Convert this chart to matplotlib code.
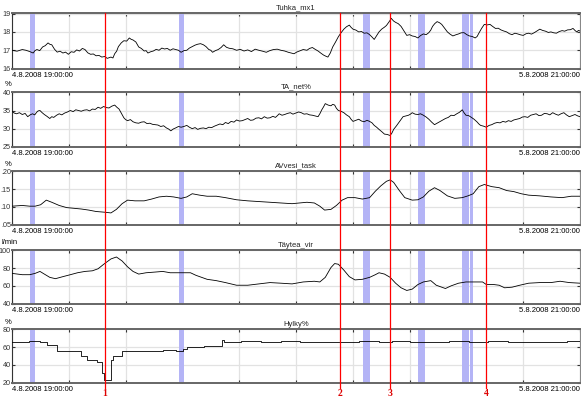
import matplotlib
matplotlib.use('Agg')
import matplotlib.pyplot as plt
import matplotlib.transforms as mtransforms
from matplotlib.lines import Line2D
import numpy as np

# time axis: hours since 4.8.2008 19:00:00 (ends 5.8.2008 21:00:00)
t_start_label = '4.8.2008 19:00:00'
t_end_label = '5.8.2008 21:00:00'
t_end = 26.0

# (hour, value) readings
tuhka_pts = [
    (0.0, 17.0), (0.23, 16.95), (0.47, 17.04), (0.64, 17.0), (0.81, 16.93), (0.97, 16.85), (1.05, 16.98),
    (1.14, 17.04), (1.27, 16.98), (1.40, 17.18), (1.52, 17.25), (1.65, 17.4), (1.74, 17.32), (1.82, 17.3),
    (1.95, 17.05), (2.07, 16.9), (2.2, 16.95), (2.33, 16.85), (2.45, 16.9), (2.58, 16.78), (2.71, 16.92),
    (2.84, 16.89), (2.96, 17.02), (3.09, 16.96), (3.22, 17.1), (3.34, 17.04), (3.47, 16.86), (3.60, 16.78),
    (3.72, 16.8), (3.85, 16.7), (3.98, 16.72), (4.11, 16.63), (4.24, 16.66), (4.36, 16.56), (4.45, 16.6),
    (4.53, 16.63), (4.62, 16.58), (4.70, 16.81), (4.79, 16.95), (4.87, 17.2), (5.0, 17.4), (5.12, 17.52),
    (5.25, 17.5), (5.37, 17.67), (5.45, 17.6), (5.54, 17.56), (5.67, 17.45), (5.80, 17.18), (5.92, 17.1),
    (6.05, 16.96), (6.14, 16.98), (6.22, 16.85), (6.35, 16.92), (6.47, 16.96), (6.6, 17.05), (6.73, 17.0),
    (6.86, 17.12), (6.98, 17.07), (7.11, 17.1), (7.24, 17.0), (7.37, 17.08), (7.49, 17.04), (7.62, 17.0),
    (7.74, 16.89), (7.87, 16.98), (8.00, 17.0), (8.12, 17.12), (8.25, 17.2), (8.38, 17.28), (8.50, 17.33),
    (8.63, 17.36), (8.76, 17.3), (8.88, 17.2), (9.01, 17.04), (9.1, 17.0), (9.18, 16.89), (9.31, 16.98),
    (9.44, 17.04), (9.57, 17.15), (9.69, 17.3), (9.82, 17.16), (9.94, 17.11), (10.11, 17.08), (10.28, 17.0),
    (10.45, 17.05), (10.62, 16.96), (10.79, 17.02), (10.96, 16.93), (11.13, 17.06), (11.30, 17.0),
    (11.47, 16.95), (11.64, 16.89), (11.8, 16.98), (11.97, 17.04), (12.14, 17.06), (12.31, 17.0),
    (12.48, 16.96), (12.65, 16.89), (12.78, 16.85), (12.91, 16.81), (13.03, 16.9), (13.16, 16.96),
    (13.33, 17.04), (13.50, 17.0), (13.62, 17.1), (13.75, 17.15), (13.88, 17.05), (14.01, 16.96),
    (14.13, 16.85), (14.26, 16.74), (14.36, 16.68), (14.46, 16.63), (14.57, 16.85), (14.68, 17.18),
    (14.81, 17.45), (14.94, 17.74), (15.06, 17.95), (15.19, 18.15), (15.31, 18.28), (15.44, 18.37),
    (15.52, 18.25), (15.61, 18.15), (15.74, 18.1), (15.87, 18.0), (16.0, 18.02), (16.12, 17.93),
    (16.25, 17.95), (16.37, 17.85), (16.48, 17.72), (16.58, 17.59), (16.69, 17.8), (16.80, 18.0),
    (16.92, 18.15), (17.05, 18.26), (17.14, 18.35), (17.22, 18.48), (17.29, 18.6), (17.36, 18.74),
    (17.46, 18.6), (17.56, 18.52), (17.68, 18.45), (17.81, 18.3), (17.94, 18.05), (18.07, 17.81),
    (18.2, 17.85), (18.32, 17.78), (18.45, 17.75), (18.58, 17.67), (18.7, 17.8), (18.83, 17.89),
    (18.96, 17.85), (19.08, 17.96), (19.17, 18.1), (19.25, 18.3), (19.35, 18.45), (19.46, 18.56),
    (19.57, 18.5), (19.67, 18.41), (19.8, 18.2), (19.93, 18.0), (20.05, 17.88), (20.18, 17.78),
    (20.31, 17.84), (20.44, 17.89), (20.56, 17.95), (20.69, 17.96), (20.82, 17.85), (20.94, 17.78),
    (21.07, 17.75), (21.20, 17.67), (21.29, 17.75), (21.37, 17.93), (21.5, 18.2), (21.62, 18.41),
    (21.75, 18.38), (21.88, 18.41), (22.0, 18.3), (22.13, 18.19), (22.26, 18.2), (22.38, 18.11),
    (22.51, 18.05), (22.64, 18.0), (22.77, 17.9), (22.89, 17.85), (23.02, 17.93), (23.15, 17.89),
    (23.28, 17.84), (23.40, 17.81), (23.53, 17.9), (23.65, 17.93), (23.78, 17.88), (23.91, 17.96),
    (24.04, 18.06), (24.16, 18.15), (24.29, 18.08), (24.42, 18.04), (24.55, 17.97), (24.67, 18.0),
    (24.8, 17.95), (24.92, 17.93), (25.05, 18.02), (25.18, 18.07), (25.3, 18.04), (25.43, 18.11),
    (25.56, 18.12), (25.68, 18.19), (25.77, 18.08), (25.85, 18.0), (25.93, 18.08), (26.0, 18.05),
]

tanet_pts = [
    (0.0, 34.8), (0.1, 34.3), (0.21, 34.1), (0.34, 34.4), (0.47, 33.9), (0.6, 34.2), (0.72, 33.3),
    (0.83, 33.8), (0.94, 34.1), (1.04, 33.8), (1.14, 34.6), (1.2, 34.9), (1.28, 35.0), (1.38, 34.4),
    (1.48, 33.9), (1.6, 33.4), (1.73, 32.8), (1.82, 33.3), (1.91, 33.1), (2.04, 33.7), (2.16, 34.1),
    (2.28, 33.8), (2.41, 34.3), (2.54, 34.6), (2.67, 35.0), (2.8, 34.7), (2.92, 35.2), (3.05, 35.0),
    (3.17, 34.8), (3.3, 35.1), (3.43, 35.2), (3.55, 34.9), (3.68, 35.4), (3.81, 35.3), (3.94, 35.9),
    (4.06, 35.6), (4.19, 36.1), (4.32, 35.8), (4.44, 35.7), (4.57, 36.2), (4.70, 36.5), (4.8, 35.9),
    (4.90, 35.4), (5.0, 34.3), (5.12, 33.0), (5.2, 32.5), (5.29, 32.2), (5.42, 32.5), (5.54, 31.9),
    (5.67, 31.6), (5.80, 31.5), (5.92, 31.8), (6.05, 31.9), (6.18, 31.4), (6.31, 31.5), (6.43, 31.2),
    (6.56, 31.1), (6.68, 31.0), (6.81, 30.6), (6.94, 30.8), (7.07, 30.2), (7.17, 29.9), (7.27, 29.4),
    (7.38, 29.9), (7.49, 30.2), (7.62, 30.6), (7.74, 30.4), (7.87, 30.6), (8.00, 30.9), (8.12, 30.4),
    (8.25, 30.0), (8.38, 30.3), (8.50, 29.8), (8.63, 30.1), (8.76, 30.2), (8.88, 30.0), (9.01, 30.4),
    (9.14, 30.3), (9.27, 30.7), (9.4, 31.0), (9.52, 31.3), (9.65, 31.1), (9.77, 31.7), (9.9, 31.4),
    (10.03, 32.0), (10.16, 31.8), (10.28, 32.4), (10.41, 32.1), (10.54, 32.2), (10.66, 32.5),
    (10.79, 32.8), (10.92, 32.3), (11.04, 32.4), (11.17, 32.9), (11.30, 33.0), (11.42, 32.7),
    (11.55, 33.3), (11.68, 32.9), (11.81, 33.0), (11.94, 33.4), (12.06, 33.1), (12.15, 33.6),
    (12.23, 34.1), (12.36, 33.7), (12.48, 33.9), (12.61, 34.2), (12.74, 34.4), (12.86, 34.0),
    (12.99, 34.3), (13.12, 34.6), (13.24, 34.4), (13.37, 34.0), (13.50, 34.1), (13.62, 33.8),
    (13.75, 33.7), (13.88, 33.5), (14.01, 33.3), (14.1, 34.2), (14.18, 35.2), (14.26, 36.0),
    (14.34, 36.9), (14.47, 36.5), (14.60, 36.3), (14.68, 36.7), (14.77, 36.5), (14.85, 35.6),
    (14.94, 35.0), (15.06, 34.8), (15.19, 34.4), (15.31, 33.8), (15.44, 33.3), (15.52, 32.6),
    (15.61, 32.0), (15.74, 32.3), (15.87, 32.6), (16.0, 32.1), (16.12, 31.9), (16.25, 32.3),
    (16.37, 32.0), (16.48, 31.6), (16.58, 30.9), (16.69, 30.4), (16.80, 29.8), (16.92, 29.2),
    (17.05, 28.5), (17.18, 28.4), (17.31, 28.1), (17.39, 28.8), (17.47, 29.8), (17.6, 30.8),
    (17.73, 31.9), (17.82, 32.7), (17.90, 33.3), (18.03, 33.5), (18.15, 33.7), (18.24, 34.0),
    (18.32, 34.4), (18.45, 34.0), (18.58, 33.9), (18.7, 34.1), (18.83, 33.7), (18.96, 33.2),
    (19.08, 32.6), (19.21, 31.8), (19.34, 31.1), (19.46, 31.5), (19.59, 31.9), (19.72, 32.4),
    (19.84, 32.8), (19.97, 33.1), (20.10, 33.7), (20.23, 33.6), (20.36, 34.1), (20.48, 34.5),
    (20.61, 35.2), (20.7, 34.3), (20.78, 33.7), (20.9, 33.6), (21.03, 33.1), (21.15, 32.6),
    (21.28, 31.9), (21.37, 31.3), (21.45, 30.9), (21.58, 30.7), (21.71, 30.4), (21.84, 30.9),
    (21.96, 31.1), (22.09, 31.5), (22.21, 31.7), (22.34, 31.6), (22.47, 32.0), (22.6, 31.8),
    (22.72, 32.2), (22.85, 32.0), (22.97, 32.4), (23.1, 32.6), (23.24, 32.8), (23.36, 33.2),
    (23.48, 33.3), (23.61, 33.1), (23.74, 33.7), (23.86, 33.9), (23.99, 34.1), (24.12, 33.6),
    (24.24, 33.7), (24.37, 34.2), (24.50, 34.1), (24.62, 33.8), (24.75, 34.4), (24.88, 34.0),
    (25.01, 33.7), (25.13, 34.1), (25.26, 34.4), (25.38, 33.8), (25.51, 33.3), (25.64, 33.6),
    (25.77, 33.9), (25.9, 33.5), (26.0, 33.3),
]

avvesi_t = [0.0, 0.47, 0.81, 1.06, 1.31, 1.57, 1.82, 2.16, 2.50, 2.84, 3.17, 3.51, 3.85, 4.24,
            4.53, 4.78, 5.04, 5.29, 5.63, 6.05, 6.39, 6.73, 7.07, 7.40, 7.74, 8.00, 8.25, 8.59,
            8.93, 9.35, 9.77, 10.28, 10.79, 11.30, 11.81, 12.31, 12.82, 13.16, 13.50, 13.84,
            14.09, 14.31, 14.60, 14.85, 15.11, 15.36, 15.70, 16.04, 16.37, 16.63, 16.88, 17.14,
            17.31, 17.47, 17.73, 17.98, 18.32, 18.58, 18.83, 19.08, 19.34, 19.59, 19.93, 20.27,
            20.61, 20.87, 21.11, 21.37, 21.62, 21.96, 22.30, 22.64, 22.97, 23.31, 23.65, 24.16,
            24.67, 25.18, 25.60, 26.0]
avvesi_v = [0.102, 0.104, 0.102, 0.102, 0.106, 0.119, 0.113, 0.104, 0.098, 0.096, 0.094, 0.091, 0.087, 0.085,
            0.083, 0.093, 0.109, 0.119, 0.117, 0.117, 0.122, 0.128, 0.130, 0.128, 0.124, 0.128, 0.137, 0.133,
            0.130, 0.130, 0.126, 0.120, 0.117, 0.115, 0.113, 0.111, 0.109, 0.111, 0.113, 0.111,
            0.102, 0.091, 0.093, 0.104, 0.119, 0.126, 0.126, 0.122, 0.126, 0.144, 0.159, 0.172,
            0.176, 0.169, 0.146, 0.126, 0.119, 0.120, 0.128, 0.144, 0.154, 0.146, 0.131, 0.124,
            0.126, 0.131, 0.137, 0.157, 0.163, 0.157, 0.154, 0.146, 0.143, 0.137, 0.133, 0.131,
            0.128, 0.126, 0.130, 0.130]

taytea_t = [0.0, 0.47, 0.81, 1.06, 1.28, 1.48, 1.73, 1.99, 2.33, 2.67, 3.00, 3.34, 3.68, 3.94,
            4.24, 4.53, 4.78, 5.04, 5.29, 5.54, 5.80, 6.14, 6.56, 6.90, 7.24, 7.74, 8.17, 8.42,
            8.93, 9.35, 9.77, 10.28, 10.79, 11.30, 11.81, 12.31, 12.82, 13.33, 13.84, 14.09,
            14.34, 14.60, 14.77, 14.94, 15.19, 15.44, 15.70, 16.04, 16.37, 16.63, 16.80, 17.05,
            17.31, 17.56, 17.81, 18.07, 18.32, 18.58, 18.83, 19.17, 19.42, 19.84, 20.10, 20.44,
            20.78, 21.28, 21.54, 21.71, 22.05, 22.30, 22.55, 22.89, 23.24, 23.65, 24.16, 24.67,
            25.09, 25.51, 26.0]
taytea_v = [74.1, 72.6, 72.6, 74.1, 76.3, 73.3, 69.6, 68.1, 70.4, 72.6, 74.8, 76.3, 77.0, 79.3,
            85.2, 90.4, 92.6, 88.1, 81.5, 76.3, 73.3, 74.8, 75.6, 76.3, 74.8, 74.8, 74.8, 71.9,
            67.4, 65.9, 63.7, 60.7, 60.7, 62.2, 63.7, 63.0, 62.2, 64.4, 65.2, 64.4,
            69.6, 80.7, 85.2, 84.4, 77.8, 70.4, 66.7, 67.4, 69.6, 72.6, 74.8, 73.3,
            69.6, 63.0, 57.8, 54.8, 56.3, 61.5, 64.4, 65.9, 60.7, 57.0, 60.0, 63.0,
            64.4, 64.4, 64.4, 61.5, 61.5, 60.7, 57.8, 58.5, 60.7, 63.0, 63.7, 63.7,
            65.2, 63.7, 63.0]

hylky_t = [0.0, 0.8, 1.3, 1.62, 2.07, 2.6, 3.14, 3.43, 3.89, 4.11, 4.22, 4.53, 4.61, 5.04,
           5.6, 6.2, 6.9, 7.5, 7.83, 8.0, 8.8, 9.61, 9.70, 10.5, 11.4, 12.3, 13.2, 14.1,
           15.0, 15.9, 16.8, 17.4, 18.2, 19.1, 20.0, 20.9, 21.8, 22.7, 23.6, 24.5, 25.4, 26.0]
hylky_v = [66.0, 66.5, 65.8, 62.0, 56.0, 55.5, 50.5, 46.0, 43.0, 31.0, 23.0, 46.0, 50.5, 55.5,
           56.2, 55.6, 56.3, 55.8, 58.0, 60.5, 61.0, 68.0, 66.0, 66.4, 65.8, 66.5, 66.0, 66.3,
           65.9, 66.6, 66.0, 67.0, 66.2, 65.8, 66.4, 66.0, 66.5, 65.9, 66.3, 66.0, 66.4, 66.0]

tuhka_t, tuhka_v = zip(*tuhka_pts)
tanet_t, tanet_v = zip(*tanet_pts)

# vertical event markers and blue shaded periods (hours)
events = [4.24, 15.02, 17.32, 21.71]
event_labels = ['1', '2', '3', '4']
band_start = [0.81, 7.63, 16.05, 18.59, 20.62, 20.84, 20.98]
band_end = [1.06, 7.86, 16.39, 18.91, 20.81, 20.94, 21.10]

panels = [
    ('Tuhka_mx1', '', tuhka_t, tuhka_v, [16, 17, 18, 19], ['16', '17', '18', '19'], (15.98, 19.03), 'line'),
    ('TA_net%', '%', tanet_t, tanet_v, [25, 30, 35, 40], ['25', '30', '35', '40'], (24.95, 40.1), 'line'),
    ('AVvesi_task', '%', avvesi_t, avvesi_v, [0.05, 0.10, 0.15, 0.20], ['.05', '.10', '.15', '.20'], (0.049, 0.201), 'line'),
    ('Täytea_vir', 'l/min', taytea_t, taytea_v, [40, 60, 80, 100], ['40', '60', '80', '100'], (39.5, 100.5), 'line'),
    ('Hylky%', '%', hylky_t, hylky_v, [20, 40, 60, 80], ['20', '40', '60', '80'], (19.5, 80.5), 'step'),
]
tops_px = [13, 92, 171, 250, 329]
bottoms_px = [69, 147, 225, 304, 383]

W, H = 581, 398
plt.rcParams['font.family'] = ['Liberation Sans', 'DejaVu Sans']
fig = plt.figure(figsize=(W / 100, H / 100), dpi=100)

axes = []
for (title, unit, t, v, yt, ytl, ylim, kind), top, bot in zip(panels, tops_px, bottoms_px):
    ax = fig.add_axes([12 / W, 1 - bot / H, 568 / W, (bot - top) / H])
    for b0, b1 in zip(band_start, band_end):
        ax.axvspan(b0, b1, color='#b4b4f6', lw=0, zorder=1)
    if kind == 'step':
        ax.step(t, v, where='post', color='black', lw=0.6, zorder=3)
    else:
        ax.plot(t, v, color='black', lw=0.6, zorder=3)
    ax.set_xlim(0, t_end)
    ax.set_ylim(*ylim)
    ax.set_xticks(np.linspace(0, t_end, 11))
    ax.set_xticklabels([])
    ax.set_yticks(yt)
    ax.set_yticklabels(ytl)
    ax.grid(True, color='#e2e2e2', lw=0.9, zorder=0)
    ax.set_axisbelow(True)
    ax.tick_params(direction='in', length=2.5, width=0.8, top=True, right=True,
                   labelsize=5.2, pad=0.8, colors='#333333')
    for side in ['top', 'bottom']:
        ax.spines[side].set_color('#666666')
        ax.spines[side].set_linewidth(1.4)
    ax.spines['left'].set_color('#333333')
    ax.spines['right'].set_color('#888888')
    ax.spines['left'].set_linewidth(0.8)
    ax.spines['right'].set_linewidth(0.8)
    ax.set_title(title, fontsize=5.5, pad=2.5, color='#222222')
    if unit == 'l/min':
        fig.text(1 / W, 1 - (top - 7) / H, unit, ha='left', va='center', fontsize=5.5)
    elif unit:
        fig.text(8 / W, 1 - (top - 7) / H, unit, ha='center', va='center', fontsize=5.5)
    ax.annotate(t_start_label, xy=(0, 0), xycoords='axes fraction', xytext=(0, -2),
                textcoords='offset points', ha='left', va='top', fontsize=5.5)
    ax.annotate(t_end_label, xy=(1, 0), xycoords='axes fraction', xytext=(0, -2),
                textcoords='offset points', ha='right', va='top', fontsize=5.5)
    axes.append(ax)

# red event lines spanning all panels, numbered below
trans = mtransforms.blended_transform_factory(axes[-1].transData, fig.transFigure)
for ev, lab in zip(events, event_labels):
    fig.add_artist(Line2D([ev, ev], [1 - 13 / H, 1 - 388 / H], transform=trans,
                          color='red', lw=0.9, zorder=10))
    fig.text(ev, 1 - 393 / H, lab, transform=trans, ha='center', va='center',
             color='#dd0000', fontsize=7, fontweight='bold', family='Liberation Serif')

fig.savefig('out.png', dpi=100)
